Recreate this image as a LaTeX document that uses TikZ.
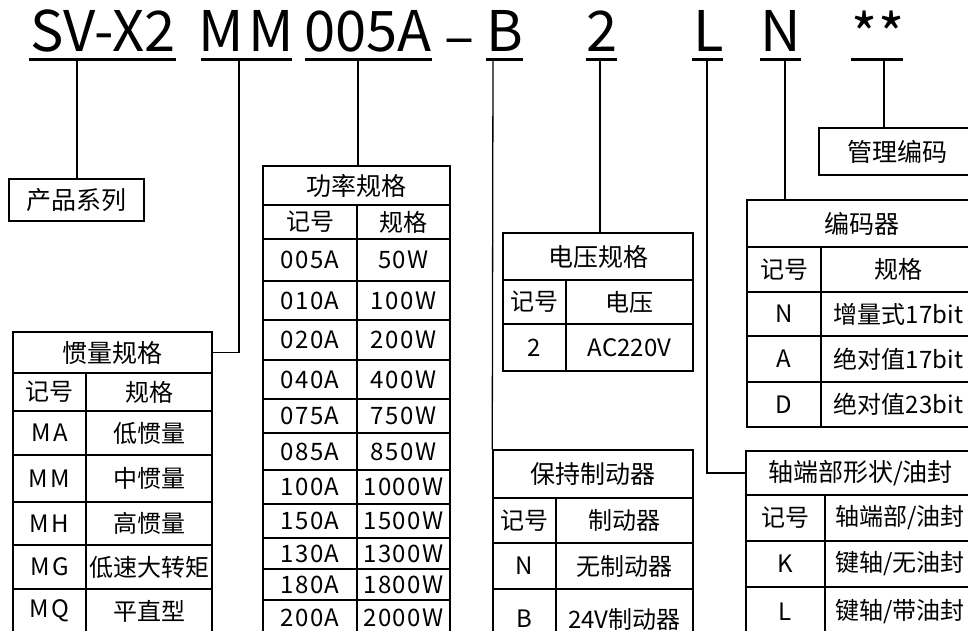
\documentclass[tikz,border=0pt]{standalone}
\usepackage{fontspec}
\setmainfont{Noto Sans CJK SC}
\newfontfamily\nfont[LetterSpace=6]{Noto Sans CJK SC}
\newfontfamily\mfont[LetterSpace=10]{Noto Sans CJK SC}
\newcommand\tc[6]{\node[cellbox, minimum width={#4-#2}, minimum height={#5-#3}] (#1) at ({(#2+#4)/2},{(#3+#5)/2}) {#6};}
\newcommand\hc[6]{\node[cellbox, font=\fontsize{25}{29}\selectfont, minimum width={#4-#2}, minimum height={#5-#3}] (#1) at ({(#2+#4)/2},{(#3+#5)/2}) {#6};}
\begin{document}
\begin{tikzpicture}[x=1pt,y=-1pt,
  cellbox/.style={draw, line width=1.5pt, inner sep=0pt, font=\fontsize{24}{28}\selectfont},
  conn/.style={line width=1.3pt},
  ul/.style={line width=3pt},
  ttl/.style={font=\fontsize{56}{60}\selectfont, anchor=base, inner sep=0pt}]
\useasboundingbox (0,0) rectangle (968,631);
\clip (0,0) rectangle (968,631);
% title
\node[ttl] (sv) at (103,52) {SV-X2};
\node[ttl] (mm) at (246,52) {M\kern5pt M};
\node[ttl] (pw) at (368,52) {005A};
\node[ttl] (dash) at (460,57) {–};
\node[ttl] (bk) at (505,52) {B};
\node[ttl] (vt) at (602,52) {2};
\node[ttl] (sh) at (709,52) {L};
\node[ttl] (en) at (781,52) {N};
\node[ttl] (st) at (878,56) {**};
% underline coordinates
\coordinate (c1) at (77,60);
\coordinate (c2) at (239,60);
\coordinate (c3) at (358,60);
\coordinate (c4) at (493,60);
\coordinate (c5) at (600,60);
\coordinate (c6) at (707,60);
\coordinate (c7) at (785,60);
\coordinate (c8) at (884,60);
\draw[ul] (29,60) -- (176,60);
\draw[ul] (201,60) -- (292,60);
\draw[ul] (305,60) -- (432,60);
\draw[ul] (486,60) -- (523,60);
\draw[ul] (586,60) -- (617,60);
\draw[ul] (692,60) -- (723,60);
\draw[ul] (760,60) -- (801,60);
\draw[ul] (851,60) -- (903,60);
% product series
\hc{prod}{9}{179}{144}{221}{产品系列}
% inertia table
\hc{ga}{13}{332}{212}{373}{惯量规格}
\tc{ga-h1}{13}{373}{86}{411}{记号}
\tc{ga-h2}{86}{373}{212}{411}{规格}
\tc{ga-1a}{13}{411}{86}{455}{\mfont MA}
\tc{ga-1b}{86}{411}{212}{455}{低惯量}
\tc{ga-2a}{13}{455}{86}{502}{\mfont MM}
\tc{ga-2b}{86}{455}{212}{502}{中惯量}
\tc{ga-3a}{13}{502}{86}{545}{\mfont MH}
\tc{ga-3b}{86}{502}{212}{545}{高惯量}
\tc{ga-4a}{13}{545}{86}{589}{\mfont MG}
\tc{ga-4b}{86}{545}{212}{589}{低速大转矩}
\tc{ga-5a}{13}{589}{86}{633}{\mfont MQ}
\tc{ga-5b}{86}{589}{212}{633}{平直型}
% power table
\hc{gl}{263}{166}{450}{205}{功率规格}
\tc{gl-h1}{263}{205}{357}{239}{记号}
\tc{gl-h2}{357}{205}{450}{239}{规格}
\foreach \a/\b/\p/\q/\i in {239/281/005A/50W/1, 281/320/010A/100W/2, 320/360/020A/200W/3,
  360/399/040A/400W/4, 399/433/075A/750W/5, 433/470/085A/850W/6, 470/504/100A/1000W/7,
  504/538/150A/1500W/8, 538/569/130A/1300W/9, 569/600/180A/1800W/10, 600/635/200A/2000W/11}{
  \tc{gl-\i a}{263}{\a}{357}{\b}{\nfont\p}
  \tc{gl-\i b}{357}{\a}{450}{\b}{\nfont\q}
}
% voltage table
\hc{dy}{503}{233}{693}{280}{电压规格}
\tc{dy-h1}{503}{280}{566}{324}{记号}
\tc{dy-h2}{566}{280}{693}{324}{电压}
\tc{dy-1a}{503}{324}{566}{371}{2}
\tc{dy-1b}{566}{324}{693}{371}{AC220V}
% brake table
\hc{zd}{493}{450}{693}{498}{保持制动器}
\tc{zd-h1}{493}{498}{556}{543}{记号}
\tc{zd-h2}{556}{498}{693}{543}{制动器}
\tc{zd-1a}{493}{543}{556}{589}{N}
\tc{zd-1b}{556}{543}{693}{589}{无制动器}
\tc{zd-2a}{493}{589}{556}{649}{B}
\tc{zd-2b}{556}{589}{693}{649}{24V制动器}
% management code
\hc{gm}{819}{128}{976}{175}{管理编码}
% encoder table
\hc{bm}{747}{200}{976}{247}{编码器}
\tc{bm-h1}{747}{247}{821}{292}{记号}
\tc{bm-h2}{821}{247}{976}{292}{规格}
\tc{bm-1a}{747}{292}{821}{336}{N}
\tc{bm-1b}{821}{292}{976}{336}{增量式17bit}
\tc{bm-2a}{747}{336}{821}{382}{A}
\tc{bm-2b}{821}{336}{976}{382}{绝对值17bit}
\tc{bm-3a}{747}{382}{821}{427}{D}
\tc{bm-3b}{821}{382}{976}{427}{绝对值23bit}
% shaft table
\hc{zc}{746}{451}{975}{495}{轴端部形状/油封}
\tc{zc-h1}{746}{495}{825}{541}{记号}
\tc{zc-h2}{825}{495}{975}{541}{轴端部/油封}
\tc{zc-1a}{746}{541}{825}{587}{K}
\tc{zc-1b}{825}{541}{975}{587}{键轴/无油封}
\tc{zc-2a}{746}{587}{825}{637}{L}
\tc{zc-2b}{825}{587}{975}{637}{键轴/带油封}
% connectors
\draw[conn] (c1) -- (c1 |- prod.north);
\draw[conn] (c2) |- (ga.east);
\draw[conn] (c3) -- (c3 |- gl.north);
\draw[conn] (c4) -- (zd.north west);
\draw[conn] (c5) -- (c5 |- dy.north);
\draw[conn] (c6) |- (zc.west);
\draw[conn] (c7) -- (c7 |- bm.north);
\draw[conn] (c8) -- (c8 |- gm.north);
\end{tikzpicture}
\end{document}
